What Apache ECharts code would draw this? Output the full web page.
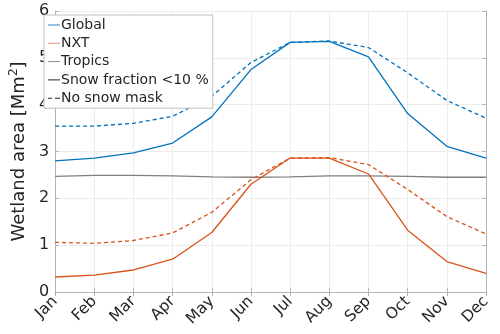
<!DOCTYPE html>
<html><head><meta charset="utf-8">
<script src="https://cdn.jsdelivr.net/npm/echarts@6/dist/echarts.min.js"></script>
<style>html,body{margin:0;padding:0;background:#fff}#c{width:500px;height:334px}</style>
</head><body><div id="c"></div>
<script>
const months = ['Jan','Feb','Mar','Apr','May','Jun','Jul','Aug','Sep','Oct','Nov','Dec'];
const globalSnow = [2.80, 2.86, 2.97, 3.18, 3.74, 4.75, 5.33, 5.35, 5.02, 3.81, 3.11, 2.86];
const globalNoMask = [3.54, 3.54, 3.60, 3.75, 4.18, 4.90, 5.33, 5.36, 5.22, 4.68, 4.09, 3.71];
const nxtSnow = [0.32, 0.36, 0.47, 0.70, 1.27, 2.30, 2.86, 2.86, 2.52, 1.32, 0.65, 0.40];
const nxtNoMask = [1.06, 1.04, 1.10, 1.26, 1.70, 2.40, 2.86, 2.87, 2.72, 2.19, 1.61, 1.24];
const tropics = [2.47, 2.49, 2.49, 2.48, 2.46, 2.45, 2.46, 2.48, 2.48, 2.47, 2.45, 2.45];
const yTicks = [0, 1, 2, 3, 4, 5, 6];

const BLUE = '#0072BD', ORANGE = '#D95319', GREY = '#7f7f7f';
const FONT = 'DejaVu Sans';
const axisGrey = '#b3b3b3';
const SOLID_ICON = 'path://M0,5 L12,5 L12,6 L0,6 Z';
const DASH_ICON = 'path://M0,5 L4,5 L4,6 L0,6 Z M7,5 L12,5 L12,6 L7,6 Z';
const chart = echarts.init(document.getElementById('c'), null, {renderer: 'canvas'});
const line = (name, data, color, type, z) => ({
  name, type: 'line', data, symbol: 'none', z: z || 2,
  lineStyle: {color, width: 1.3, type: type || 'solid'},
  itemStyle: {color}, emphasis: {disabled: true}
});
const legItem = (name, icon, color) => ({
  name, icon, itemStyle: {color, borderWidth: 0}, lineStyle: {color, width: 0}
});
chart.setOption({
  animation: false,
  textStyle: {fontFamily: FONT},
  grid: {left: 43, right: 14, top: 11, bottom: 42, containLabel: false},
  legend: {
    orient: 'vertical', left: 44, top: 15,
    data: [
      legItem('Global', SOLID_ICON, '#2a85c8'),
      legItem('NXT', SOLID_ICON, '#E8906A'),
      legItem('Tropics', SOLID_ICON, '#8c8c8c'),
      legItem('Snow fraction <10 %', SOLID_ICON, '#262626'),
      legItem('No snow mask', DASH_ICON, '#262626')
    ],
    itemWidth: 12, itemHeight: 10, itemGap: 4.3,
    padding: [3, 4, 3, 4],
    backgroundColor: '#fff', borderColor: '#c0c0c0', borderWidth: 1, borderRadius: 0,
    textStyle: {fontFamily: FONT, fontSize: 14, color: '#262626', padding: [0, 0, 0, -4]},
    selectedMode: false
  },
  xAxis: [{
    type: 'category', data: months, boundaryGap: false,
    axisLine: {lineStyle: {color: axisGrey}},
    axisTick: {inside: true, length: 4, lineStyle: {color: axisGrey}},
    axisLabel: {rotate: 45, fontSize: 15.5, color: '#262626', margin: 7, fontFamily: FONT},
    splitLine: {show: true, lineStyle: {color: '#ececec'}}
  }, {
    type: 'category', data: months, boundaryGap: false, position: 'top',
    axisLine: {lineStyle: {color: axisGrey}},
    axisTick: {inside: true, length: 4, lineStyle: {color: axisGrey}},
    axisLabel: {show: false}
  }],
  yAxis: [{
    type: 'value', min: 0, max: 6, interval: 1,
    name: 'Wetland area [Mm{sup|2}]', nameLocation: 'middle', nameGap: 24,
    nameTextStyle: {fontSize: 18, color: '#262626', fontFamily: FONT,
      rich: {sup: {fontSize: 12, verticalAlign: 'top', padding: [0, 0, 10, 0], color: '#262626', fontFamily: FONT}}},
    axisLine: {show: true, lineStyle: {color: axisGrey}},
    axisTick: {show: true, inside: true, length: 4, lineStyle: {color: axisGrey}},
    axisLabel: {fontSize: 16, color: '#262626', margin: 6, fontFamily: FONT,
      formatter: v => yTicks.includes(v) ? String(v) : ''},
    splitLine: {show: true, lineStyle: {color: '#ececec'}}
  }, {
    type: 'value', min: 0, max: 6, interval: 1, position: 'right',
    axisLine: {show: true, lineStyle: {color: axisGrey}},
    axisTick: {show: true, inside: true, length: 4, lineStyle: {color: axisGrey}},
    axisLabel: {show: false}, splitLine: {show: false}
  }],
  series: [
    line('Tropics', tropics, GREY, 'solid', 2),
    line('Global', globalSnow, BLUE, 'solid', 3),
    line('Global no mask', globalNoMask, BLUE, [4, 3], 3),
    line('NXT', nxtSnow, ORANGE, 'solid', 3),
    line('NXT no mask', nxtNoMask, ORANGE, [4, 3], 3),
    line('Snow fraction <10 %', [], '#262626', 'solid'),
    line('No snow mask', [], '#262626', [3, 3])
  ]
});
</script></body></html>
